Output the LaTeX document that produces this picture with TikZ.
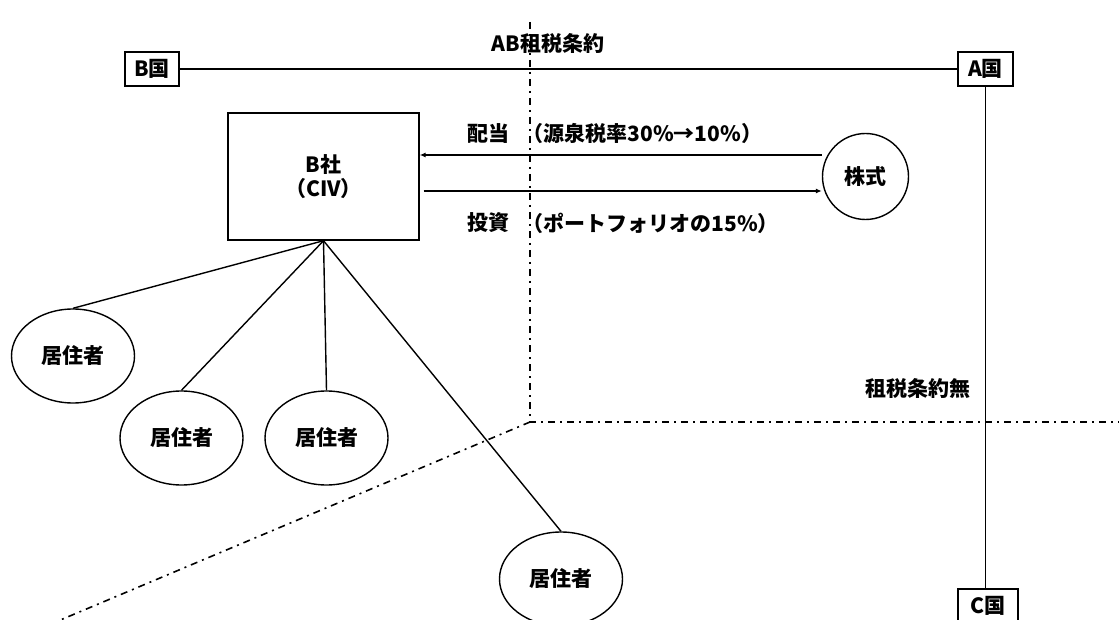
\documentclass[tikz,border=0pt]{standalone}
\usepackage{fontspec}
\setmainfont{Noto Sans CJK JP}
\usetikzlibrary{arrows.meta,shapes.geometric}
\begin{document}
\begin{tikzpicture}[x=1pt,y=-1pt,
  font=\bfseries\fontsize{21}{24}\selectfont,
  line width=1.4pt,
  box/.style={draw, rectangle, inner sep=0pt, minimum height=34pt},
  res/.style={draw, ellipse, inner sep=0pt, minimum width=123pt, minimum height=94pt},
  dd/.style={line width=1.6pt, dash pattern=on 7pt off 5pt on 2pt off 5pt},
  arr/.style={-{Latex[length=6pt,width=5pt]}},
  lbl/.style={inner sep=0pt, anchor=west}]
\useasboundingbox (0,0) rectangle (1119,620);

% dash-dot borders
\coordinate (top) at (530,22);
\coordinate (corner) at (530,422);
\coordinate (rend) at (1119,422);
\coordinate (blend) at (58,621);
\draw[dd] (top) -- (corner) -- (rend);
\draw[dd] (corner) -- (blend);

% countries
\node[box, minimum width=54pt] (B) at (152,69) {B国};
\node[box, minimum width=55pt] (A) at (985.5,69) {A国};
\node[box, minimum width=60pt] (C) at (988,606) {C国};
\draw (B) -- (A);
\draw (A.south) -- (A.south |- C.north);

\node[lbl] (ab) at (491,44) {AB租税条約};
\node[lbl] (nt) at (865,389) {租税条約無};

% company and shares
\node[draw, rectangle, inner sep=0pt, minimum width=191pt, minimum height=127pt, align=center] (bs) at (323.5,176.5) {B社\\（CIV）};
\node[draw, circle, inner sep=0pt, minimum size=86pt] (k) at (865.5,176.5) {株式};

\coordinate (dy) at (0,155);
\coordinate (iy) at (0,191);
\draw[arr] (k.west |- dy) -- (bs.east |- dy);
\draw[arr] ([xshift=4pt]bs.east |- iy) -- (k.west |- iy);

\node[lbl] (hai) at (467,134) {配当};
\node[lbl] (gen) at (522,134) {（源泉税率30\%→10\%）};
\node[lbl] (tou) at (467,223) {投資};
\node[lbl] (port) at (522,223) {（ポートフォリオの15\%）};

% residents
\node[res] (r1) at (73,356) {居住者};
\node[res] (r2) at (181.5,438) {居住者};
\node[res] (r3) at (326.5,438) {居住者};
\node[res] (r4) at (561,579) {居住者};
\draw (bs.south) -- (r1.north);
\draw (bs.south) -- (r2.north);
\draw (bs.south) -- (r3.north);
\draw (bs.south) -- (r4.north);
\end{tikzpicture}
\end{document}
